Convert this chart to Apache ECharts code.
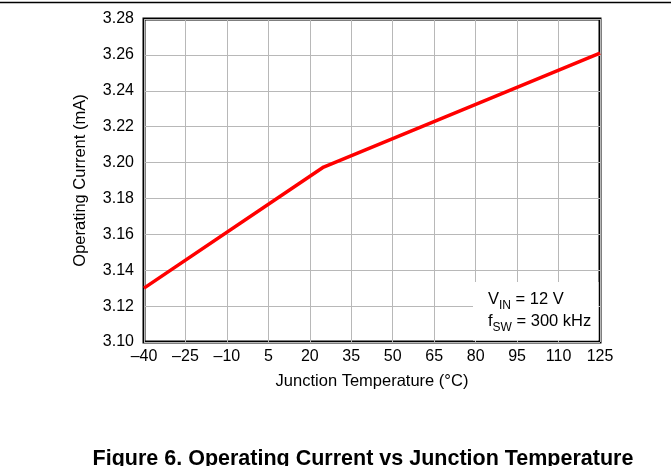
<!DOCTYPE html>
<html><head><meta charset="utf-8">
<script src="https://cdn.jsdelivr.net/npm/echarts@6/dist/echarts.min.js"></script>
<style>html,body{margin:0;padding:0;background:#fff}#c{width:671px;height:466px}</style>
</head><body><div id="c"></div>
<script>
var temps = [-40, 25, 125];
var current = [3.130, 3.1975, 3.261];
var xTicks = [-40, -25, -10, 5, 20, 35, 50, 65, 80, 95, 110, 125];
var yTicks = [3.10, 3.12, 3.14, 3.16, 3.18, 3.20, 3.22, 3.24, 3.26, 3.28];
var F = 'Liberation Sans, Arial, sans-serif';
var chart = echarts.init(document.getElementById('c'), null, {renderer: 'canvas'});
var data = temps.map(function (t, i) { return [t, current[i]]; });
chart.setOption({
  animation: false,
  grid: {left: 144, top: 19, width: 456, height: 323, show: true, borderColor: '#000', borderWidth: 3, backgroundColor: 'transparent'},
  xAxis: {
    type: 'value', min: xTicks[0], max: xTicks[xTicks.length - 1], interval: 15,
    name: 'Junction Temperature (°C)', nameLocation: 'middle', nameGap: 31,
    nameTextStyle: {fontFamily: F, fontSize: 16.5, color: '#000'},
    axisLine: {show: false}, axisTick: {show: false},
    axisLabel: {fontFamily: F, fontSize: 16, color: '#000', margin: 7,
      formatter: function (v) { return String(v).replace('-', '\u2013'); }},
    splitLine: {show: true, lineStyle: {color: '#b8b8b8', width: 1}}
  },
  yAxis: {
    type: 'value', min: yTicks[0], max: yTicks[yTicks.length - 1], interval: 0.02,
    name: 'Operating Current (mA)', nameLocation: 'middle', nameGap: 55,
    nameTextStyle: {fontFamily: F, fontSize: 16.5, color: '#000'},
    axisLine: {show: false}, axisTick: {show: false},
    axisLabel: {fontFamily: F, fontSize: 16, color: '#000', margin: 10,
      formatter: function (v) { return v.toFixed(2); }},
    splitLine: {show: true, lineStyle: {color: '#b8b8b8', width: 1}}
  },
  series: [{
    type: 'line', data: data, showSymbol: false, symbol: 'none',
    lineStyle: {color: '#ff0000', width: 3.5}, z: 5
  }],
  graphic: [
    {type: 'line', shape: {x1: 0, y1: 2.5, x2: 671, y2: 2.5}, style: {stroke: '#000', lineWidth: 1.5}},
    {type: 'rect', shape: {x: 473, y: 282, width: 125.5, height: 58.5}, style: {fill: '#fff'}, z: 10},
    {type: 'text', left: 488, top: 291, z: 11,
      style: {
        text: '{n|V}{s|IN}{n| = 12 V}\n{n|f}{s|SW}{n| = 300 kHz}',
        rich: {
          n: {fontFamily: F, fontSize: 16.5, color: '#000', lineHeight: 22, verticalAlign: 'top'},
          s: {fontFamily: F, fontSize: 12, color: '#000', lineHeight: 22, padding: [9, 0, 0, 0], verticalAlign: 'top'}
        }
      }},
    {type: 'text', x: 363, y: 448,
      style: {text: 'Figure 6. Operating Current vs Junction Temperature', textAlign: 'center', textVerticalAlign: 'top', align: 'center', verticalAlign: 'top', fontFamily: F, fontSize: 21.5, fontWeight: 'bold', fill: '#000'}}
  ]
});
</script></body></html>
